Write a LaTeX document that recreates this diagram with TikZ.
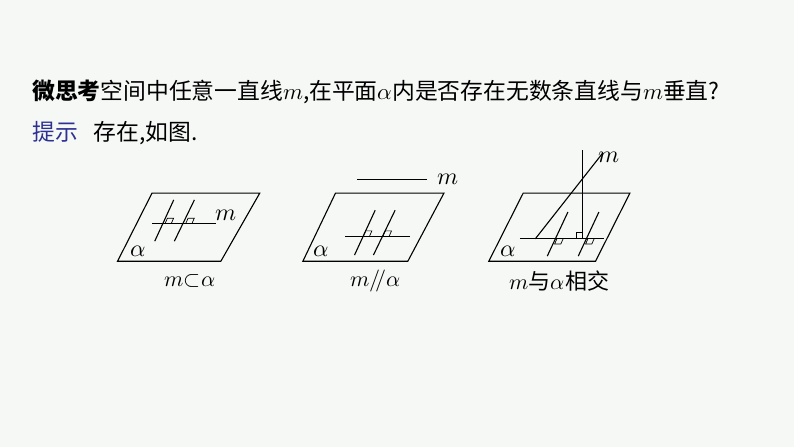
\documentclass[tikz,border=0pt]{standalone}
\usepackage{fontspec}
\newfontfamily\cjk{Noto Sans CJK SC}
\newfontfamily\lmm{Latin Modern Math}
\newcommand{\vm}{{\lmm 𝑚}}
\newcommand{\va}{{\lmm 𝛼}}
\definecolor{bg}{HTML}{F5F8F5}
\definecolor{tipblue}{HTML}{2E3192}
\begin{document}
\begin{tikzpicture}[x=1pt,y=-1pt,
  pl/.style={line width=1.1pt},
  ln/.style={line width=1.1pt},
  ra/.style={line width=0.7pt},
  lab/.style={inner sep=0pt,font=\fontsize{24}{24}\selectfont},
  captext/.style={inner sep=0pt,font=\cjk\fontsize{22}{22}\selectfont},
  txt/.style={inner sep=0pt,anchor=west,font=\cjk\fontsize{22.8}{23}\selectfont}]
\fill[bg] (0,0) rectangle (794,447);
\useasboundingbox (0,0) rectangle (794,447);
% text
\node[txt] (t1) at (32,92) {{\bfseries 微思考}空间中任意一直线\vm,在平面\va 内是否存在无数条直线与\vm 垂直?};
\node[txt] (t2) at (32,133) {\textcolor{tipblue}{提示}\hspace{0.7em}存在,如图.};
\begin{scope}[shift={(110,150)},scale=1.033,shift={(-110,-150)}]
% panel 1
\draw[pl] (150.7,191.7) -- (255,191.7) -- (217.3,257.7) -- (117.3,257.7) -- cycle;
\coordinate (a1) at (150.7,221); \coordinate (a2) at (212.7,221);
\draw[ln] (a1) -- (a2);
\draw[ln] (171.7,198.3) -- (153.3,238.3);
\draw[ln] (191.7,198.3) -- (172.3,238.3);
\draw[ra] (163.4,221) -- (165.6,216) -- (171.6,216) -- (169.4,221);
\draw[ra] (183.4,221) -- (185.6,216) -- (191.6,216) -- (189.4,221);
\node[lab] (m1) at (222,213.5) {\vm};
\node[lab] (al1) at (137.3,248.3) {\va};
\node[captext] (c1) at (187.3,276.7) {\vm{\lmm ⊂}\va};
% panel 2
\draw[pl] (328.3,191.7) -- (433.3,191.7) -- (398.3,257.7) -- (296.7,257.7) -- cycle;
\draw[ln] (349.3,178.3) -- (416.7,178.3);
\node[lab] (m2) at (437,178.3) {\vm};
\draw[ln] (337.7,233.3) -- (400.7,233.3);
\draw[ln] (366.7,208.3) -- (346.7,251.7);
\draw[ln] (386,208.3) -- (365,251.7);
\draw[ra] (355.3,233.3) -- (357.5,228.3) -- (363.5,228.3) -- (361.3,233.3);
\draw[ra] (374.3,233.3) -- (376.5,228.3) -- (382.5,228.3) -- (380.3,233.3);
\node[lab] (al2) at (314,248.3) {\va};
\node[captext] (c2) at (366.7,276.7) {\vm{\lmm /\kern-0.25em/}\va};
% panel 3
\draw[pl] (510,191.7) -- (613.3,191.7) -- (580,257.7) -- (476.7,257.7) -- cycle;
\draw[ln] (506.7,236) -- (588.3,236);
\draw[ln] (567.7,150) -- (567.7,236);
\draw[ln] (521.7,236) -- (586.7,153.3);
\draw[ln] (553.3,210) -- (533.3,252.7);
\draw[ln] (583.3,210) -- (563.3,252.7);
\draw[ra] (561.7,236) -- (561.7,230) -- (567.7,230);
\draw[ra] (542.6,236) -- (540.4,241) -- (546.4,241) -- (548.6,236);
\draw[ra] (572.6,236) -- (570.4,241) -- (576.4,241) -- (578.6,236);
\node[lab] (m3) at (593,157) {\vm};
\node[lab] (al3) at (495.7,248.3) {\va};
\node[captext] (c3) at (545,276.7) {\vm 与\va 相交};
\end{scope}
\end{tikzpicture}
\end{document}
